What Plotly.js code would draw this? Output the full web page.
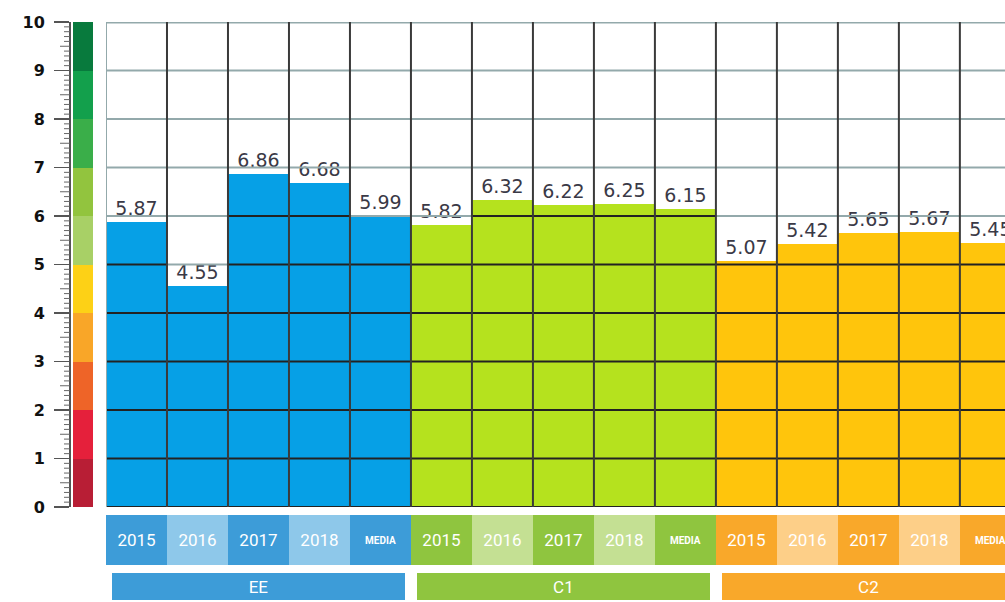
<!DOCTYPE html>
<html>
<head>
<meta charset="utf-8">
<script src="https://cdn.plot.ly/plotly-3.0.1.min.js"></script>
<style>html,body{margin:0;padding:0;background:#fff;}#chart{width:1005px;height:602px;}</style>
</head>
<body>
<div id="chart"></div>
<script>
// ---- data ----
var groups = ['EE', 'C1', 'C2'];
var years = ['2015', '2016', '2017', '2018', 'MEDIA'];
var valuesEE = [5.87, 4.55, 6.86, 6.68, 5.99];
var valuesC1 = [5.82, 6.32, 6.22, 6.25, 6.15];
var valuesC2 = [5.07, 5.42, 5.65, 5.67, 5.45];
var yTicks = [0, 1, 2, 3, 4, 5, 6, 7, 8, 9, 10];
var scaleBandColors = ['#b81e35', '#e5203b', '#ee6428', '#f9a628', '#fdd116',
                       '#a8d066', '#92c43e', '#3aae49', '#13a04c', '#087a3d'];

// ---- styling ----
var barColors = ['#06a0e6', '#b5e21e', '#ffc50c'];
var rowDark = ['#3d9cd8', '#8fc53f', '#f9a82a'];
var rowLight = ['#8ec8ea', '#c4e093', '#fdcf88'];
var pillColors = ['#3d9cd8', '#8fc53f', '#f9a82a'];

var allValues = [valuesEE, valuesC1, valuesC2];
var xs = [], ys = [], cols = [], txt = [];
var rowX = [], rowY = [], rowCols = [], rowTxt = [], rowSize = [];
allValues.forEach(function (vals, g) {
  vals.forEach(function (v, i) {
    var idx = g * years.length + i;
    xs.push(idx); ys.push(v); cols.push(barColors[g]); txt.push(v.toFixed(2));
    rowX.push(idx); rowY.push(1);
    rowCols.push(i % 2 === 1 ? rowLight[g] : rowDark[g]);
    rowTxt.push(years[i] === 'MEDIA' ? '<b>' + years[i] + '</b>' : years[i]);
    rowSize.push(years[i] === 'MEDIA' ? 10 : 17);
  });
});
var n = xs.length;

var traces = [
  {
    type: 'bar', x: xs, y: ys, xaxis: 'x', yaxis: 'y',
    marker: {color: cols, line: {width: 0}},
    width: 1,
    text: txt, textposition: 'outside', cliponaxis: false,
    textfont: {family: 'DejaVu Sans', size: 19, color: '#3a3946'},
    hoverinfo: 'skip'
  },
  {
    type: 'bar', x: scaleBandColors.map(function () { return 0.5; }),
    y: scaleBandColors.map(function () { return 1; }),
    base: scaleBandColors.map(function (c, i) { return i; }),
    xaxis: 'x2', yaxis: 'y', width: 1,
    marker: {color: scaleBandColors, line: {width: 0}}, hoverinfo: 'skip'
  },
  {
    type: 'bar', x: rowX, y: rowY, xaxis: 'x', yaxis: 'y2', width: 1,
    marker: {color: rowCols, line: {width: 0}},
    text: rowTxt, textposition: 'inside', insidetextanchor: 'middle',
    textangle: 0,
    textfont: {family: 'Roboto', size: rowSize, color: '#ffffff'},
    hoverinfo: 'skip'
  },
  {
    type: 'bar', x: groups.map(function (g, i) { return i * years.length + (years.length - 1) / 2; }),
    y: groups.map(function () { return 1; }),
    xaxis: 'x', yaxis: 'y3', width: 4.8,
    marker: {color: pillColors, line: {width: 0}},
    text: groups, textposition: 'inside', insidetextanchor: 'middle', textangle: 0,
    textfont: {family: 'Roboto', size: 17, color: '#ffffff'},
    hoverinfo: 'skip'
  }
];

var rulerPx = 70;
var shapes = [];
// ruler minor ticks (every 0.1, longer at 0.5)
for (var m = 0; m <= 100; m++) {
  if (m % 10 === 0) continue;
  var len = (m % 5 === 0) ? 10 : 6;
  shapes.push({
    type: 'line', layer: 'above', xref: 'paper', yref: 'y',
    x0: (rulerPx - len) / 1005, x1: rulerPx / 1005, y0: m / 10, y1: m / 10,
    line: {color: '#666', width: 1}
  });
}
// grid lines drawn above bars
yTicks.forEach(function (k) {
  for (var i = 0; i < n; i++) {
    var under = ys[i] > k && k > 0;
    shapes.push({
      type: 'line', layer: 'above', xref: 'x', yref: 'y',
      x0: xs[i] - 0.5, x1: xs[i] + 0.5, y0: k, y1: k,
      line: {color: (under || k === 0) ? '#222222' : '#93a9ab', width: k === 10 ? 3 : 2}
    });
  }
});
for (var b = 0; b <= n; b++) {
  shapes.push({
    type: 'line', layer: 'above', xref: 'x', yref: 'y',
    x0: b - 0.5, x1: b - 0.5, y0: 0, y1: 10,
    line: {color: b === 0 ? '#93a9ab' : '#3a3a3a', width: 2}
  });
}

var layout = {
  width: 1005, height: 602,
  margin: {l: 0, r: 0, t: 0, b: 0},
  paper_bgcolor: '#ffffff', plot_bgcolor: '#ffffff',
  showlegend: false, barmode: 'overlay', bargap: 0,
  xaxis: {domain: [106 / 1005, 1], range: [-0.5, 14.24], visible: false, fixedrange: true},
  xaxis2: {domain: [73 / 1005, 93 / 1005], range: [0, 1], visible: false, anchor: 'y'},
  yaxis: {
    domain: [95 / 602, 580 / 602], range: [0, 10],
    anchor: 'free', position: rulerPx / 1005, side: 'left',
    showgrid: false, zeroline: false,
    showline: true, linecolor: '#555', linewidth: 2,
    tickmode: 'linear', tick0: yTicks[0], dtick: yTicks[1] - yTicks[0],
    ticks: 'outside', ticklen: 15, tickwidth: 1.5, tickcolor: '#555',
    ticklabelstandoff: 6,
    tickfont: {family: 'DejaVu Sans', size: 16, color: '#111', weight: 'bold'}
  },
  yaxis2: {domain: [37 / 602, 87 / 602], range: [0, 1], visible: false, anchor: 'x'},
  yaxis3: {domain: [2 / 602, 29 / 602], range: [0, 1], visible: false, anchor: 'x'},
  shapes: shapes
};

Plotly.newPlot('chart', traces, layout, {staticPlot: true});
</script>
</body>
</html>
